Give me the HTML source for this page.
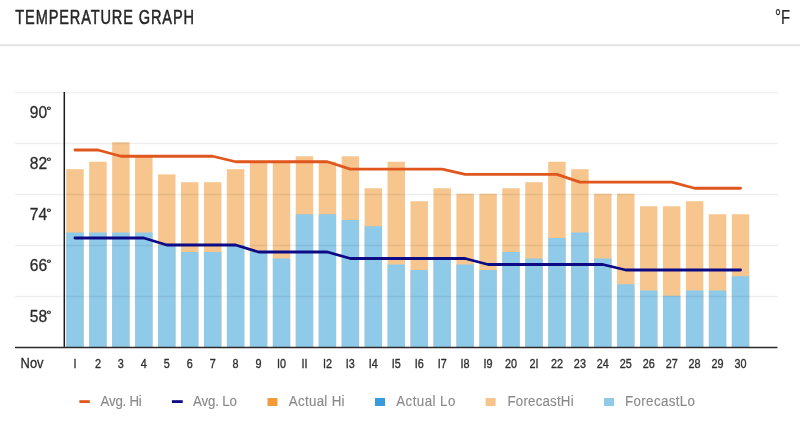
<!DOCTYPE html>
<html><head><meta charset="utf-8"><style>
html,body{margin:0;padding:0;background:#fff;width:800px;height:432px;overflow:hidden}
svg{display:block;will-change:transform}
text{font-family:"Liberation Sans",sans-serif;stroke-linejoin:round}
.yl{font-size:17.3px;fill:#2b2b2b;stroke:#2b2b2b;stroke-width:0.3px}
.xl{font-size:12.3px;fill:#303030;stroke:#303030;stroke-width:0.35px}
.lg{font-size:15.3px;fill:#8a8a8a;stroke:#8a8a8a;stroke-width:0.15px}
</style></head><body>
<svg width="800" height="432" viewBox="0 0 800 432">
<text transform="translate(15.3 24.4) scale(0.74 1)" x="0" y="0" textLength="241.5" lengthAdjust="spacing" style="font-size:19.7px;fill:#262626;stroke:#262626;stroke-width:0.5px">TEMPERATURE GRAPH</text>
<text x="775" y="24.4" textLength="15" lengthAdjust="spacingAndGlyphs" style="font-size:19.5px;fill:#262626;stroke:#262626;stroke-width:0.2px">°F</text>
<rect x="0" y="44.2" width="800" height="2" fill="#e3e3e3"/>
<rect x="66.25" y="169.2" width="17.45" height="178.3" fill="#F6C68E"/><rect x="66.25" y="232.5" width="17.45" height="115.0" fill="#8FCAE9"/><rect x="89.2" y="161.75" width="17.45" height="185.75" fill="#F6C68E"/><rect x="89.2" y="232.5" width="17.45" height="115.0" fill="#8FCAE9"/><rect x="112.15" y="142.3" width="17.45" height="205.2" fill="#F6C68E"/><rect x="112.15" y="232.5" width="17.45" height="115.0" fill="#8FCAE9"/><rect x="135.1" y="156.25" width="17.45" height="191.25" fill="#F6C68E"/><rect x="135.1" y="232.5" width="17.45" height="115.0" fill="#8FCAE9"/><rect x="158.05" y="174.4" width="17.45" height="173.1" fill="#F6C68E"/><rect x="158.05" y="245" width="17.45" height="102.5" fill="#8FCAE9"/><rect x="181.0" y="182.2" width="17.45" height="165.3" fill="#F6C68E"/><rect x="181.0" y="252" width="17.45" height="95.5" fill="#8FCAE9"/><rect x="203.95" y="182.2" width="17.45" height="165.3" fill="#F6C68E"/><rect x="203.95" y="252" width="17.45" height="95.5" fill="#8FCAE9"/><rect x="226.9" y="169.2" width="17.45" height="178.3" fill="#F6C68E"/><rect x="226.9" y="245" width="17.45" height="102.5" fill="#8FCAE9"/><rect x="249.85" y="161.75" width="17.45" height="185.75" fill="#F6C68E"/><rect x="249.85" y="252" width="17.45" height="95.5" fill="#8FCAE9"/><rect x="272.8" y="161.75" width="17.45" height="185.75" fill="#F6C68E"/><rect x="272.8" y="258.5" width="17.45" height="89.0" fill="#8FCAE9"/><rect x="295.75" y="156.25" width="17.45" height="191.25" fill="#F6C68E"/><rect x="295.75" y="214.25" width="17.45" height="133.25" fill="#8FCAE9"/><rect x="318.7" y="161.75" width="17.45" height="185.75" fill="#F6C68E"/><rect x="318.7" y="214.25" width="17.45" height="133.25" fill="#8FCAE9"/><rect x="341.65" y="156.25" width="17.45" height="191.25" fill="#F6C68E"/><rect x="341.65" y="220" width="17.45" height="127.5" fill="#8FCAE9"/><rect x="364.6" y="188.25" width="17.45" height="159.25" fill="#F6C68E"/><rect x="364.6" y="226.25" width="17.45" height="121.25" fill="#8FCAE9"/><rect x="387.55" y="161.75" width="17.45" height="185.75" fill="#F6C68E"/><rect x="387.55" y="264.5" width="17.45" height="83.0" fill="#8FCAE9"/><rect x="410.5" y="201.25" width="17.45" height="146.25" fill="#F6C68E"/><rect x="410.5" y="270" width="17.45" height="77.5" fill="#8FCAE9"/><rect x="433.45" y="188.25" width="17.45" height="159.25" fill="#F6C68E"/><rect x="433.45" y="258.5" width="17.45" height="89.0" fill="#8FCAE9"/><rect x="456.4" y="193.75" width="17.45" height="153.75" fill="#F6C68E"/><rect x="456.4" y="264.5" width="17.45" height="83.0" fill="#8FCAE9"/><rect x="479.35" y="193.75" width="17.45" height="153.75" fill="#F6C68E"/><rect x="479.35" y="270" width="17.45" height="77.5" fill="#8FCAE9"/><rect x="502.3" y="188.25" width="17.45" height="159.25" fill="#F6C68E"/><rect x="502.3" y="252" width="17.45" height="95.5" fill="#8FCAE9"/><rect x="525.25" y="182.2" width="17.45" height="165.3" fill="#F6C68E"/><rect x="525.25" y="258.5" width="17.45" height="89.0" fill="#8FCAE9"/><rect x="548.2" y="161.75" width="17.45" height="185.75" fill="#F6C68E"/><rect x="548.2" y="238" width="17.45" height="109.5" fill="#8FCAE9"/><rect x="571.15" y="169.2" width="17.45" height="178.3" fill="#F6C68E"/><rect x="571.15" y="232.5" width="17.45" height="115.0" fill="#8FCAE9"/><rect x="594.1" y="193.75" width="17.45" height="153.75" fill="#F6C68E"/><rect x="594.1" y="258.5" width="17.45" height="89.0" fill="#8FCAE9"/><rect x="617.05" y="193.75" width="17.45" height="153.75" fill="#F6C68E"/><rect x="617.05" y="284.25" width="17.45" height="63.25" fill="#8FCAE9"/><rect x="640.0" y="206.25" width="17.45" height="141.25" fill="#F6C68E"/><rect x="640.0" y="290.5" width="17.45" height="57.0" fill="#8FCAE9"/><rect x="662.95" y="206.25" width="17.45" height="141.25" fill="#F6C68E"/><rect x="662.95" y="295.75" width="17.45" height="51.75" fill="#8FCAE9"/><rect x="685.9" y="201.25" width="17.45" height="146.25" fill="#F6C68E"/><rect x="685.9" y="290.5" width="17.45" height="57.0" fill="#8FCAE9"/><rect x="708.85" y="214.25" width="17.45" height="133.25" fill="#F6C68E"/><rect x="708.85" y="290.5" width="17.45" height="57.0" fill="#8FCAE9"/><rect x="731.8" y="214.25" width="17.45" height="133.25" fill="#F6C68E"/><rect x="731.8" y="276.25" width="17.45" height="71.25" fill="#8FCAE9"/>
<line x1="15" y1="92.5" x2="778" y2="92.5" stroke="rgba(0,0,0,0.065)" stroke-width="1.5"/><line x1="15" y1="143.5" x2="778" y2="143.5" stroke="rgba(0,0,0,0.065)" stroke-width="1.5"/><line x1="15" y1="194.5" x2="778" y2="194.5" stroke="rgba(0,0,0,0.065)" stroke-width="1.5"/><line x1="15" y1="245.5" x2="778" y2="245.5" stroke="rgba(0,0,0,0.065)" stroke-width="1.5"/><line x1="15" y1="296.5" x2="778" y2="296.5" stroke="rgba(0,0,0,0.065)" stroke-width="1.5"/>
<line x1="64.3" y1="92" x2="64.3" y2="348" stroke="#1a1a1a" stroke-width="1.5"/>
<line x1="15" y1="347.6" x2="777.5" y2="347.6" stroke="#2a2a2a" stroke-width="1.5"/>
<polyline points="74.97,150 97.92,150 120.88,156.25 143.82,156.25 166.78,156.25 189.72,156.25 212.67,156.25 235.62,161.75 258.57,161.75 281.52,161.75 304.48,161.75 327.43,161.75 350.38,169.2 373.32,169.2 396.28,169.2 419.23,169.2 442.18,169.2 465.12,174.4 488.07,174.4 511.03,174.4 533.98,174.4 556.93,174.4 579.88,182.2 602.83,182.2 625.77,182.2 648.73,182.2 671.67,182.2 694.62,188.25 717.58,188.25 740.52,188.25" fill="none" stroke="#E0561D" stroke-width="2.8" stroke-linejoin="round" stroke-linecap="round"/>
<polyline points="74.97,238 97.92,238 120.88,238 143.82,238 166.78,245 189.72,245 212.67,245 235.62,245 258.57,252 281.52,252 304.48,252 327.43,252 350.38,258.5 373.32,258.5 396.28,258.5 419.23,258.5 442.18,258.5 465.12,258.5 488.07,264.5 511.03,264.5 533.98,264.5 556.93,264.5 579.88,264.5 602.83,264.5 625.77,270 648.73,270 671.67,270 694.62,270 717.58,270 740.52,270" fill="none" stroke="#0C0A84" stroke-width="2.8" stroke-linejoin="round" stroke-linecap="round"/>
<text transform="translate(47.1 118.4) scale(0.9 1)" text-anchor="end" class="yl">90</text><ellipse cx="48.9" cy="108.2" rx="1.55" ry="1.2" fill="none" stroke="#2b2b2b" stroke-width="1.1"/><text transform="translate(47.1 169.4) scale(0.9 1)" text-anchor="end" class="yl">82</text><ellipse cx="48.9" cy="159.2" rx="1.55" ry="1.2" fill="none" stroke="#2b2b2b" stroke-width="1.1"/><text transform="translate(47.1 220.4) scale(0.9 1)" text-anchor="end" class="yl">74</text><ellipse cx="48.9" cy="210.2" rx="1.55" ry="1.2" fill="none" stroke="#2b2b2b" stroke-width="1.1"/><text transform="translate(47.1 271.4) scale(0.9 1)" text-anchor="end" class="yl">66</text><ellipse cx="48.9" cy="261.2" rx="1.55" ry="1.2" fill="none" stroke="#2b2b2b" stroke-width="1.1"/><text transform="translate(47.1 322.4) scale(0.9 1)" text-anchor="end" class="yl">58</text><ellipse cx="48.9" cy="312.2" rx="1.55" ry="1.2" fill="none" stroke="#2b2b2b" stroke-width="1.1"/>
<text x="20.6" y="367.5" textLength="23" lengthAdjust="spacingAndGlyphs" style="font-size:14.5px;fill:#2b2b2b;stroke:#2b2b2b;stroke-width:0.3px">Nov</text>
<text transform="translate(74.97 368) scale(0.88 1)" text-anchor="middle" class="xl">I</text><text transform="translate(97.92 368) scale(0.88 1)" text-anchor="middle" class="xl">2</text><text transform="translate(120.88 368) scale(0.88 1)" text-anchor="middle" class="xl">3</text><text transform="translate(143.82 368) scale(0.88 1)" text-anchor="middle" class="xl">4</text><text transform="translate(166.78 368) scale(0.88 1)" text-anchor="middle" class="xl">5</text><text transform="translate(189.72 368) scale(0.88 1)" text-anchor="middle" class="xl">6</text><text transform="translate(212.67 368) scale(0.88 1)" text-anchor="middle" class="xl">7</text><text transform="translate(235.62 368) scale(0.88 1)" text-anchor="middle" class="xl">8</text><text transform="translate(258.57 368) scale(0.88 1)" text-anchor="middle" class="xl">9</text><text transform="translate(281.52 368) scale(0.88 1)" text-anchor="middle" class="xl">I0</text><text transform="translate(304.48 368) scale(0.88 1)" text-anchor="middle" class="xl">II</text><text transform="translate(327.43 368) scale(0.88 1)" text-anchor="middle" class="xl">I2</text><text transform="translate(350.38 368) scale(0.88 1)" text-anchor="middle" class="xl">I3</text><text transform="translate(373.32 368) scale(0.88 1)" text-anchor="middle" class="xl">I4</text><text transform="translate(396.28 368) scale(0.88 1)" text-anchor="middle" class="xl">I5</text><text transform="translate(419.23 368) scale(0.88 1)" text-anchor="middle" class="xl">I6</text><text transform="translate(442.18 368) scale(0.88 1)" text-anchor="middle" class="xl">I7</text><text transform="translate(465.12 368) scale(0.88 1)" text-anchor="middle" class="xl">I8</text><text transform="translate(488.07 368) scale(0.88 1)" text-anchor="middle" class="xl">I9</text><text transform="translate(511.03 368) scale(0.88 1)" text-anchor="middle" class="xl">20</text><text transform="translate(533.98 368) scale(0.88 1)" text-anchor="middle" class="xl">2I</text><text transform="translate(556.93 368) scale(0.88 1)" text-anchor="middle" class="xl">22</text><text transform="translate(579.88 368) scale(0.88 1)" text-anchor="middle" class="xl">23</text><text transform="translate(602.83 368) scale(0.88 1)" text-anchor="middle" class="xl">24</text><text transform="translate(625.77 368) scale(0.88 1)" text-anchor="middle" class="xl">25</text><text transform="translate(648.73 368) scale(0.88 1)" text-anchor="middle" class="xl">26</text><text transform="translate(671.67 368) scale(0.88 1)" text-anchor="middle" class="xl">27</text><text transform="translate(694.62 368) scale(0.88 1)" text-anchor="middle" class="xl">28</text><text transform="translate(717.58 368) scale(0.88 1)" text-anchor="middle" class="xl">29</text><text transform="translate(740.52 368) scale(0.88 1)" text-anchor="middle" class="xl">30</text>
<rect x="79.4" y="400.2" width="10.4" height="2.8" fill="#E0561D"/>
<text transform="translate(100.6 406.3) scale(0.87 1)" textLength="47.35" lengthAdjust="spacing" class="lg">Avg. Hi</text>
<rect x="171.9" y="400.2" width="10.8" height="2.8" fill="#0C0A84"/>
<text transform="translate(193.1 406.3) scale(0.87 1)" textLength="50.23" lengthAdjust="spacing" class="lg">Avg. Lo</text>
<rect x="267.5" y="398" width="10" height="8" fill="#F39B3B"/>
<text transform="translate(288.75 406.3) scale(0.87 1)" textLength="64.14" lengthAdjust="spacing" class="lg">Actual Hi</text>
<rect x="375" y="398" width="10" height="8" fill="#3A9ADB"/>
<text transform="translate(396.25 406.3) scale(0.87 1)" textLength="67.93" lengthAdjust="spacing" class="lg">Actual Lo</text>
<rect x="485.6" y="398" width="10" height="8" fill="#F8C48C"/>
<text transform="translate(507.5 406.3) scale(0.87 1)" textLength="75.98" lengthAdjust="spacing" class="lg">ForecastHi</text>
<rect x="604" y="398" width="10" height="8" fill="#8FCAE9"/>
<text transform="translate(625.0 406.3) scale(0.87 1)" textLength="80.46" lengthAdjust="spacing" class="lg">ForecastLo</text>
</svg>
</body></html>
